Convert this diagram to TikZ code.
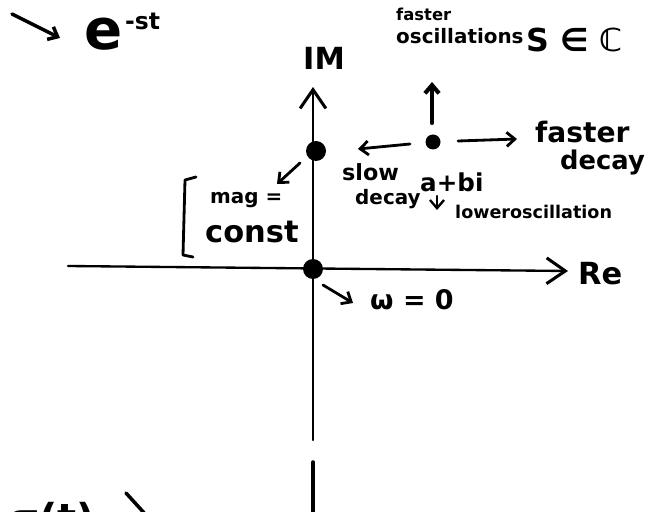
\documentclass[tikz,border=0pt]{standalone}
\usepackage{fontspec}
\newfontfamily\handfont{DejaVu Sans}
\usetikzlibrary{arrows.meta}
\tikzset{hand/.style={line width=2.4pt,line cap=round,line join=round},
  pen/.style={hand,-{Straight Barb[length=7pt,width=12pt]}},
  big/.style={hand,line width=2pt,-{Straight Barb[length=16pt,width=22pt,line width=2.6pt]}},
  dot/.style={circle,fill,inner sep=0pt,minimum size=#1},
  txt/.style={inner sep=0pt,font=\handfont\bfseries\fontsize{#1}{#1}\selectfont}}
\begin{document}
\begin{tikzpicture}[x=0.03cm,y=-0.03cm]
\useasboundingbox (0,0) rectangle (668,512);
\clip (0,0) rectangle (668,512);
% axes
\node[dot=0.6cm] (o) at (313,269) {};
\node[dot=0.6cm] (i) at (316,151) {};
\node[dot=0.45cm] (p) at (433,142) {};
\coordinate (rw) at (68,266); \coordinate (re) at (568,271);
\coordinate (ib) at (313,440); \coordinate (it) at (313,87);
\draw[big] (rw) -- (re);
\draw[big] (ib) -- (it);
\draw[hand,line width=3pt] (313,462) -- (313,515);
\node[txt=26pt,anchor=west] (lre) at (578,274) {Re};
\node[txt=26pt] (lim) at (324,58) {IM};
% top left
\coordinate (a0) at (12,14); \coordinate (a1) at (60,38);
\draw[pen,line width=3pt] (a0) -- (a1);
\node[txt=48pt,anchor=base] (e) at (104,50) {e};
\node[txt=20pt,anchor=south west] (st) at (125,30) {-st};
% the point s
\node[txt=14pt,anchor=south west] (fa) at (396,21) {faster};
\node[txt=17pt,anchor=north west] (os) at (396,28) {oscillations};
\node[txt=27pt,anchor=west] (sc) at (526,40) {S ∈ ℂ};
\coordinate (u0) at (432,123); \coordinate (u1) at (432,82);
\draw[pen,line width=3.5pt] (u0) -- (u1);
\coordinate (l0) at (410,144); \coordinate (l1) at (358,149);
\draw[pen] (l0) -- (l1);
\coordinate (r0) at (458,141); \coordinate (r1) at (517,139);
\draw[pen] (r0) -- (r1);
\node[txt=24pt,anchor=west] (fd) at (535,132) {faster};
\node[txt=22pt,anchor=west] (dc) at (560,162) {decay};
\node[txt=19pt,anchor=west] (sl) at (342,172) {slow};
\node[txt=17pt,anchor=west] (dl) at (355,199) {decay};
\node[txt=21pt,anchor=west] (ab) at (420,182) {a+bi};
\coordinate (d0) at (437,196); \coordinate (d1) at (437,210);
\draw[pen,line width=2pt] (d0) -- (d1);
\node[txt=15pt,anchor=west] (lo) at (455,212) {loweroscillation};
% magnitude
\coordinate (m0) at (300,163); \coordinate (m1) at (277,184);
\draw[pen] (m0) -- (m1);
\draw[hand] (196,177) -- (185,180) -- (183,255) -- (193,257);
\node[txt=17pt,anchor=west] (mg) at (210,200) {mag =};
\node[txt=26pt,anchor=west] (cn) at (205,232) {const};
% zero
\coordinate (w0) at (323,285); \coordinate (w1) at (353,303);
\draw[pen] (w0) -- (w1);
\node[txt=23pt,anchor=west] (wz) at (370,300) {ω = 0};
% bottom, cut off
\node[txt=34pt,anchor=north west] (sg) at (8,502) {σ(t)};
\coordinate (b0) at (126,493); \coordinate (b1) at (146,515);
\draw[hand,line width=3pt] (b0) -- (b1);
\end{tikzpicture}
\end{document}
